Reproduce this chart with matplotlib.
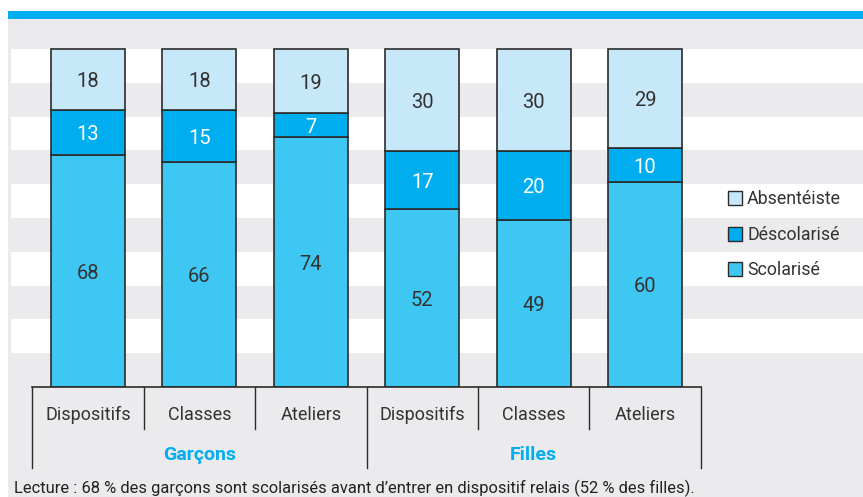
import matplotlib
matplotlib.use("Agg")
import matplotlib.pyplot as plt
from matplotlib.patches import Rectangle
from matplotlib.lines import Line2D
from matplotlib.transforms import offset_copy

plt.rcParams['font.family'] = ['Roboto', 'DejaVu Sans']

categories = ["Dispositifs", "Classes", "Ateliers", "Dispositifs", "Classes", "Ateliers"]
groups = ["Garçons", "Filles"]
series_names = ["Absentéiste", "Déscolarisé", "Scolarisé"]
scolarise = [68, 66, 74, 52, 49, 60]
descolarise = [13, 15, 7, 17, 20, 10]
absenteiste = [18, 18, 19, 30, 30, 29]
caption = "Lecture : 68 % des garçons sont scolarisés avant d\u2019entrer en dispositif relais (52 % des filles)."

W, H = 863, 497
fig = plt.figure(figsize=(W / 100, H / 100), dpi=100)
fig.patch.set_facecolor("white")

def fx(px):
    return px / W

def fy(py):
    return 1 - py / H

GRAY = "#EBEBEE"
BLUE = "#00AEEF"
C_ABS = "#C6E8F8"
C_DES = "#00AEEF"
C_SCO = "#3FC7F3"
TXT = "#333333"

# background panels
fig.patches.append(Rectangle((fx(8), fy(497)), fx(863) - fx(8), fy(19) - fy(497),
                             transform=fig.transFigure, facecolor=GRAY, edgecolor="none", zorder=-10))
fig.patches.append(Rectangle((fx(8), fy(19)), fx(863) - fx(8), fy(11) - fy(19),
                             transform=fig.transFigure, facecolor=BLUE, edgecolor="none", zorder=-10))

# axes: x pixel 11..863, y pixel 19..387
ax_left, ax_right, ax_top, ax_bot = 11, 863, 19, 387
ax = fig.add_axes([fx(ax_left), fy(ax_bot), fx(ax_right) - fx(ax_left), fy(ax_top) - fy(ax_bot)])
ax.set_zorder(1)
ax.set_facecolor("none")
step = 111.4
c0 = 88
ax.set_xlim((ax_left - c0) / step, (ax_right - c0) / step)
unit = (387 - 49) / 100.0
ax.set_ylim(0, (ax_bot - ax_top) / unit)
for s in ax.spines.values():
    s.set_visible(False)
ax.set_xticks([])
ax.set_yticks([])

# stripes
for lo in range(10, 100, 20):
    ax.axhspan(lo, lo + 10, color="white", zorder=0, lw=0)

# 100 % stacked: scale each bar to its total
tot = [a + b + c for a, b, c in zip(scolarise, descolarise, absenteiste)]
sco_h = [v * 100 / t for v, t in zip(scolarise, tot)]
des_h = [v * 100 / t for v, t in zip(descolarise, tot)]
abs_h = [v * 100 / t for v, t in zip(absenteiste, tot)]

x = list(range(len(categories)))
bw = 0.665
kw = dict(width=bw, edgecolor="#2b2b2b", linewidth=1.2, zorder=3)
ax.bar(x, sco_h, color=C_SCO, **kw)
ax.bar(x, des_h, bottom=sco_h, color=C_DES, **kw)
bot2 = [a + b for a, b in zip(sco_h, des_h)]
ax.bar(x, abs_h, bottom=bot2, color=C_ABS, **kw)

dtr = offset_copy(ax.transData, fig=fig, x=0, y=-1.5, units="points")
fs_val = 14.5
for i in x:
    ax.text(i, sco_h[i] / 2, str(scolarise[i]), ha="center", va="center",
            fontsize=fs_val, color=TXT, zorder=4, transform=dtr)
    ax.text(i, sco_h[i] + des_h[i] / 2, str(descolarise[i]), ha="center", va="center",
            fontsize=fs_val, color="white", zorder=4, transform=dtr)
    ax.text(i, bot2[i] + abs_h[i] / 2, str(absenteiste[i]), ha="center", va="center",
            fontsize=fs_val, color=TXT, zorder=4, transform=dtr)

# grouped x-axis
tr = ax.get_xaxis_transform()
lc = "#2b2b2b"
ax.add_line(Line2D([-0.5, 5.5], [0, 0], transform=tr, color=lc, lw=1.2, clip_on=False, zorder=5))
inner_len = (429 - 387) / (ax_bot - ax_top)
outer_len = (468 - 387) / (ax_bot - ax_top)
for b in [-0.5, 0.5, 1.5, 2.5, 3.5, 4.5, 5.5]:
    L = outer_len if b in (-0.5, 2.5, 5.5) else inner_len
    ax.add_line(Line2D([b, b], [0, -L], transform=tr, color=lc, lw=1.0, clip_on=False, zorder=5))

lab_y = -(415 - 387) / (ax_bot - ax_top)
grp_y = -(455 - 387) / (ax_bot - ax_top)
for i, c in enumerate(categories):
    ax.text(i, lab_y, c, transform=tr, ha="center", va="center", fontsize=13, color=TXT, clip_on=False)
for g, gx in zip(groups, [1, 4]):
    ax.text(gx, grp_y, g, transform=tr, ha="center", va="center", fontsize=14, color=BLUE,
            fontweight="bold", clip_on=False)

# legend
leg_colors = [C_ABS, C_DES, C_SCO]
leg_y = [198, 234, 269]
for name, col, py in zip(series_names, leg_colors, leg_y):
    fig.patches.append(Rectangle((fx(728), fy(py + 7)), fx(14), 14 / H, transform=fig.transFigure,
                                 facecolor=col, edgecolor="#2b2b2b", linewidth=1.0, zorder=3))
    fig.text(fx(747), fy(py + 1), name, ha="left", va="center", fontsize=12.8, color=TXT)

fig.text(fx(14), fy(488), caption, ha="left", va="center", fontsize=11.9, color="#222222")

fig.savefig("out.png", dpi=100)
